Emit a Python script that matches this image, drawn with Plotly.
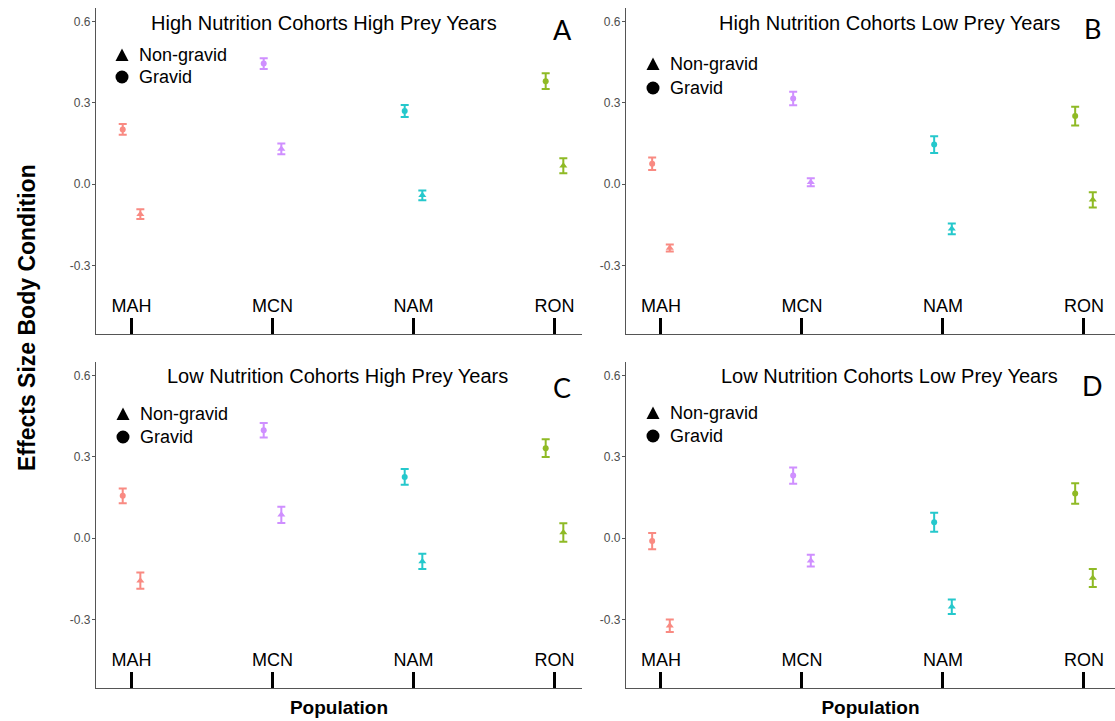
import plotly.graph_objects as go

W, H = 1115, 721

populations = ["MAH", "MCN", "NAM", "RON"]
pop_colors = ["#F8766D", "#C77CFF", "#00BFC4", "#7CAE00"]

panel_titles = [
    "High Nutrition Cohorts High Prey Years",
    "High Nutrition Cohorts Low Prey Years",
    "Low Nutrition Cohorts High Prey Years",
    "Low Nutrition Cohorts Low Prey Years",
]
panel_letters = ["A", "B", "C", "D"]

# Effect sizes (mean) and half-widths of error bars
A_gravid = [0.202, 0.445, 0.270, 0.380]
A_gravid_err = [0.020, 0.020, 0.022, 0.029]
A_nongravid = [-0.111, 0.130, -0.041, 0.068]
A_nongravid_err = [0.018, 0.020, 0.018, 0.028]

B_gravid = [0.075, 0.316, 0.146, 0.251]
B_gravid_err = [0.023, 0.025, 0.031, 0.035]
B_nongravid = [-0.236, 0.007, -0.165, -0.058]
B_nongravid_err = [0.013, 0.015, 0.020, 0.028]

C_gravid = [0.156, 0.398, 0.226, 0.332]
C_gravid_err = [0.027, 0.027, 0.029, 0.033]
C_nongravid = [-0.157, 0.086, -0.086, 0.021]
C_nongravid_err = [0.030, 0.030, 0.028, 0.034]

D_gravid = [-0.011, 0.231, 0.059, 0.165]
D_gravid_err = [0.030, 0.030, 0.035, 0.038]
D_nongravid = [-0.323, -0.083, -0.253, -0.147]
D_nongravid_err = [0.023, 0.022, 0.027, 0.033]

panels = [
    (A_gravid, A_gravid_err, A_nongravid, A_nongravid_err),
    (B_gravid, B_gravid_err, B_nongravid, B_nongravid_err),
    (C_gravid, C_gravid_err, C_nongravid, C_nongravid_err),
    (D_gravid, D_gravid_err, D_nongravid, D_nongravid_err),
]

# ---- layout geometry (pixels) ----
def px(x):
    return x / W

def py(y):
    return 1 - y / H

x_domains = [(96, 582), (626, 1115), (96, 582), (626, 1115)]
y_domains = [(8, 334), (8, 334), (362, 688), (362, 688)]
x_ranges = [(0.748, 4.195), (0.752, 4.22), (0.748, 4.195), (0.752, 4.22)]
y_range = (-0.553, 0.650)
dodge = 0.0625

FONT = "Liberation Sans, Arial, sans-serif"

fig = go.Figure()

for p, (g, ge, ng, nge) in enumerate(panels):
    xa = "x" if p == 0 else f"x{p+1}"
    ya = "y" if p == 0 else f"y{p+1}"
    for i, pop in enumerate(populations):
        for vals, errs, sym, off, nm, msize in [
            (g, ge, "circle", -dodge, "Gravid", 6),
            (ng, nge, "triangle-up", dodge, "Non-gravid", 7),
        ]:
            fig.add_trace(go.Scatter(
                x=[i + 1 + off], y=[vals[i]],
                xaxis=xa, yaxis=ya,
                mode="markers",
                name=f"{pop} {nm}",
                showlegend=False,
                opacity=0.85,
                marker=dict(symbol=sym, size=msize, color=pop_colors[i]),
                error_y=dict(type="data", array=[errs[i]], visible=True,
                             color=pop_colors[i], thickness=2, width=4),
            ))

layout = dict(
    template="none",
    width=W, height=H,
    margin=dict(l=0, r=0, t=0, b=0),
    paper_bgcolor="white", plot_bgcolor="white",
    font=dict(family=FONT, color="black"),
    showlegend=False,
)

annotations = []
shapes = []

for p in range(4):
    xk = "xaxis" if p == 0 else f"xaxis{p+1}"
    yk = "yaxis" if p == 0 else f"yaxis{p+1}"
    yref = "y" if p == 0 else f"y{p+1}"
    xref = "x" if p == 0 else f"x{p+1}"
    x0, x1 = x_domains[p]
    y0, y1 = y_domains[p]
    layout[xk] = dict(
        domain=[px(x0), px(x1)], range=list(x_ranges[p]),
        anchor=yref,
        tickmode="array", tickvals=[1, 2, 3, 4], ticktext=populations,
        ticks="inside", ticklen=16, tickwidth=3, tickcolor="black",
        ticklabelposition="inside", ticklabelstandoff=3,
        tickfont=dict(size=18, color="black", family=FONT),
        showline=True, linecolor="#555555", linewidth=1.3,
        showgrid=False, zeroline=False, fixedrange=True,
    )
    if p >= 2:
        layout[xk]["title"] = dict(text="<b>Population</b>",
                                   font=dict(size=19, color="black", family=FONT),
                                   standoff=31)
    layout[yk] = dict(
        domain=[py(y1), py(y0)], range=list(y_range),
        anchor=xref,
        tickmode="array", tickvals=[-0.3, 0.0, 0.3, 0.6],
        ticktext=["-0.3", "0.0", "0.3", "0.6"],
        ticks="outside", ticklen=3, tickwidth=1, tickcolor="#555555",
        ticklabelstandoff=-1,
        tickfont=dict(size=12, color="#4D4D4D", family=FONT),
        showline=True, linecolor="#555555", linewidth=1.3,
        showgrid=False, zeroline=False, fixedrange=True,
    )

# panel titles and letters
title_pos = [(324, 23), (889, 23), (337, 376), (889, 376)]
letter_pos = [(563, 30), (1092, 29), (562, 387), (1092, 385)]
for p in range(4):
    annotations.append(dict(
        text=panel_titles[p], xref="paper", yref="paper",
        x=px(title_pos[p][0]), y=py(title_pos[p][1]),
        xanchor="center", yanchor="middle", showarrow=False,
        font=dict(size=20, color="black", family=FONT)))
    annotations.append(dict(
        text=panel_letters[p], xref="paper", yref="paper",
        x=px(letter_pos[p][0]), y=py(letter_pos[p][1]),
        xanchor="center", yanchor="middle", showarrow=False,
        font=dict(size=27, color="black", family="Lato, " + FONT)))

# in-panel keys (shape + text)
key_pos = [(122, 55, 77), (653, 64, 88), (123, 414, 437), (653, 413, 436)]
for p in range(4):
    kx, ty, cy = key_pos[p]
    r = 6.5
    shapes.append(dict(
        type="path", xref="paper", yref="paper",
        path=(f"M {px(kx - 6.5)} {py(ty + 6)} L {px(kx + 6.5)} {py(ty + 6)} "
              f"L {px(kx)} {py(ty - 6.5)} Z"),
        fillcolor="black", line=dict(width=0)))
    shapes.append(dict(
        type="circle", xref="paper", yref="paper",
        x0=px(kx - r), x1=px(kx + r), y0=py(cy + r), y1=py(cy - r),
        fillcolor="black", line=dict(width=0)))
    for txt, yy in [("Non-gravid", ty), ("Gravid", cy)]:
        annotations.append(dict(
            text=txt, xref="paper", yref="paper",
            x=px(kx + 15), y=py(yy), xanchor="left", yanchor="middle",
            showarrow=False, font=dict(size=18, color="black", family=FONT)))

# shared y label
annotations.append(dict(
    text="<b>Effects Size Body Condition</b>", xref="paper", yref="paper",
    x=px(27), y=py(318), xanchor="center", yanchor="middle",
    textangle=-90, showarrow=False,
    font=dict(size=23, color="black", family=FONT)))

layout["annotations"] = annotations
layout["shapes"] = shapes
fig.update_layout(**layout)

fig.write_html("out.html")
